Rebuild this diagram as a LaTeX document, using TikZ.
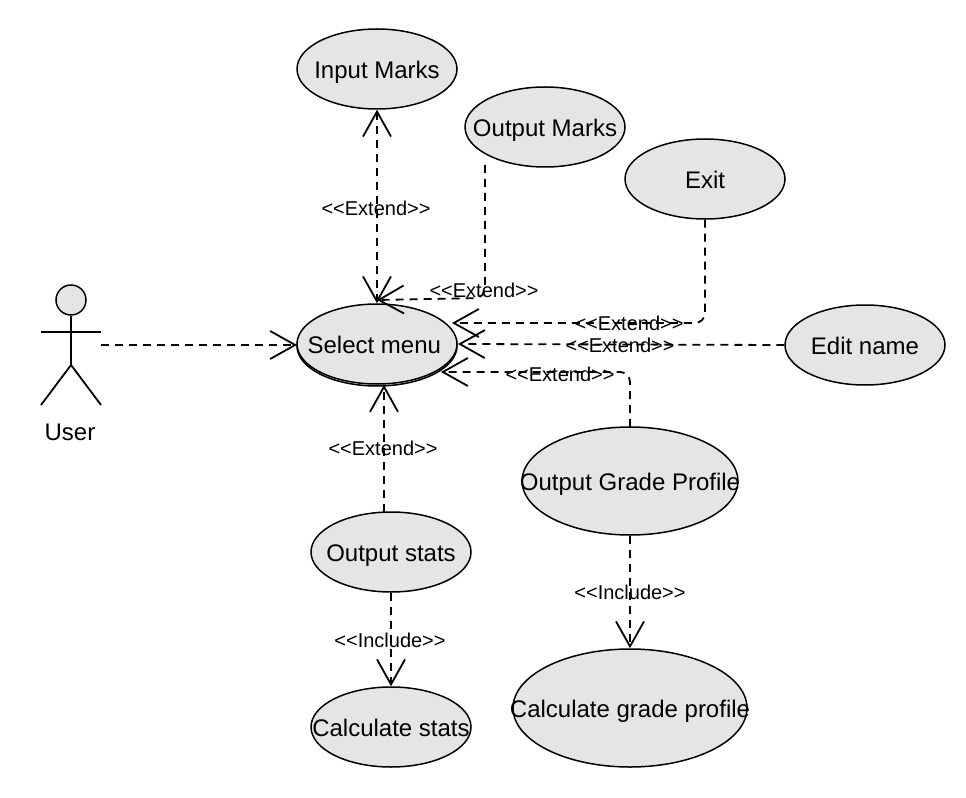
\documentclass[tikz,border=0pt]{standalone}
\usepackage{fontspec}
\setmainfont{Liberation Sans}
\usetikzlibrary{shapes.geometric,arrows.meta}
\newcommand\ctext[1]{\smash{\raisebox{-.38em}{\makebox[0pt]{#1}}}}
\tikzset{
  usecase/.style={ellipse,draw=black,fill=black!10,line width=1.5*0.75pt,inner sep=0pt,minimum width=160*0.75pt,minimum height=80*0.75pt},
  conn/.style={line width=1.8*0.75pt,dash pattern=on 8*0.75pt off 6*0.75pt,rounded corners=10*0.75pt},
  tag/.style={inner sep=0pt,font=\fontsize{15pt}{17pt}\selectfont},
  limb/.style={line width=1.8*0.75pt},
  vee/.tip={Straight Barb[length=25*0.75pt,width=28*0.75pt]},
}
\begin{document}
\begin{tikzpicture}[x=0.75pt,y=-0.75pt,font=\fontsize{18pt}{21pt}\selectfont]
\useasboundingbox (0,0) rectangle (966,798);
\fill[white] (0,0) rectangle (966,798);
% use cases
\node[usecase] (input) at (377,69) {\ctext{Input Marks}};
\node[usecase] (output) at (545,127) {\ctext{Output Marks}};
\node[usecase] (exit) at (705,179) {\ctext{Exit}};
\node[usecase] (edit) at (865,345) {\ctext{Edit name}};
\node[usecase] (selback) at (377,346) {};
\node[usecase] (sel) at (377,344) {\hspace{-4pt}\ctext{Select menu}};
\node[usecase,minimum width=216*0.75pt,minimum height=108*0.75pt] (grade) at (630,481) {\ctext{Output Grade Profile}};
\node[usecase,minimum width=234*0.75pt,minimum height=118*0.75pt] (calcg) at (630,708) {\ctext{Calculate grade profile}};
\node[usecase] (stats) at (391,552) {\ctext{Output stats}};
\node[usecase] (calcs) at (391,727) {\ctext{Calculate stats}};
% actor
\node[circle,draw=black,fill=black!10,line width=1.5*0.75pt,inner sep=0pt,minimum size=30*0.75pt] (head) at (71,300) {};
\coordinate (hip) at (71,365);
\coordinate (armL) at (41,332);
\coordinate (armR) at (101,332);
\coordinate (footL) at (41,405);
\coordinate (footR) at (101,405);
\draw[limb] (head.south) -- (hip);
\draw[limb] (armL) -- (armR);
\draw[limb] (footL) -- (hip) -- (footR);
\node[inner sep=0pt] (user) at (70,432) {User};
% free ends and bends
\coordinate (uS) at (101,345);
\coordinate (uE) at (297,345);
\coordinate (oS) at (485,165);
\coordinate (oB) at (485,298);
\coordinate (oE) at (377,300);
\coordinate (xB) at (705,323);
\coordinate (xE) at (452,323);
\coordinate (eE) at (458,344);
\coordinate (gB) at (630,372);
\coordinate (gE) at (441,372);
\coordinate (gS) at (630,427);
\coordinate (sS) at (384,512);
\coordinate (sE) at (384,385);
% connectors
\draw[conn,-vee] (uS) -- (uE);
\draw[conn,vee-vee] (input.south) -- (sel.north);
\draw[conn,-vee] (oS) -- (oB) -- (oE);
\draw[conn,-vee] (exit.south) -- (xB) -- (xE);
\draw[conn,-vee] (edit.west) -- (eE);
\draw[conn,-vee] (gS) -- (gB) -- (gE);
\draw[conn,-vee] (sS) -- (sE);
\draw[conn,-vee] (stats.south) -- (calcs.north);
\draw[conn,-vee] (grade.south) -- (calcg.north);
% labels
\node[tag] (l1) at (376,208) {<{}<Extend>{}>};
\node[tag] (l2) at (484,290) {<{}<Extend>{}>};
\node[tag] (l3) at (629,323) {<{}<Extend>{}>};
\node[tag] (l4) at (620,345) {<{}<Extend>{}>};
\node[tag] (l5) at (560,374) {<{}<Extend>{}>};
\node[tag] (l6) at (383,448) {<{}<Extend>{}>};
\node[tag] (l7) at (390,640) {<{}<Include>{}>};
\node[tag] (l8) at (630,592) {<{}<Include>{}>};
\end{tikzpicture}
\end{document}
